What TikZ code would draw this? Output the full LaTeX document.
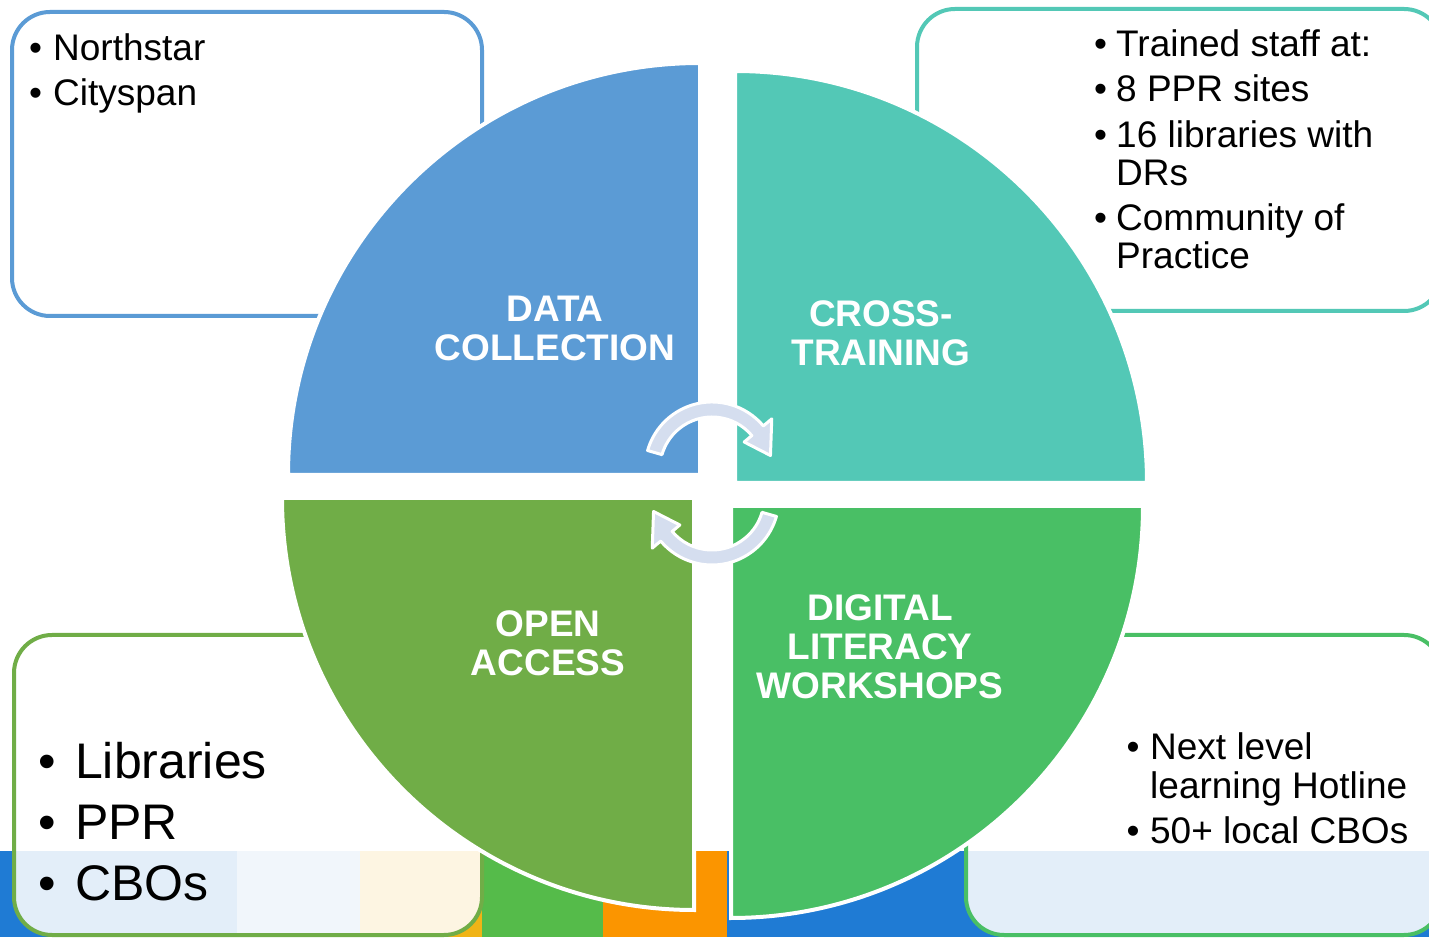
\documentclass[tikz,border=0pt]{standalone}
\usepackage{fontspec}
\setmainfont{Liberation Sans}
\usepackage{tikz}
\definecolor{secblue}{HTML}{5B9BD5}
\definecolor{secteal}{HTML}{53C8B6}
\definecolor{secolive}{HTML}{70AD47}
\definecolor{secgreen}{HTML}{49BF65}
\definecolor{cycfill}{HTML}{D5DEEF}
\definecolor{bandblue}{HTML}{1F7BD4}
\definecolor{bandsky}{HTML}{93BCE6}
\definecolor{bandyellow}{HTML}{F0B416}
\definecolor{bandgreen}{HTML}{55BB4A}
\definecolor{bandorange}{HTML}{FB9500}
\newcommand\bul[1][0.3em]{\llap{\textbullet\hspace{#1}}}
\tikzset{
  quad/.style={fill=#1, draw=white, line width=4pt},
  infobox/.style={draw=#1, fill=white, fill opacity=0.88, line width=4pt, rounded corners=38pt},
  cyc/.style={fill=cycfill, draw=white, line width=3pt, line join=round},
  seclab/.style={text=white, align=center, inner sep=0pt, font=\bfseries\fontsize{37}{39}\selectfont},
  listtxt/.style={anchor=north west, align=left, inner sep=0pt, text=black}
}

\begin{document}
\begin{tikzpicture}[x=1pt, y=1pt]
  \useasboundingbox (0,0) rectangle (1429,937);
  \clip (0,0) rectangle (1429,937);

  % coloured band along the bottom edge
  \fill[bandblue] (0,0) rectangle (237,86);
  \fill[bandsky] (237,0) rectangle (360,86);
  \fill[bandyellow] (360,0) rectangle (482,86);
  \fill[bandgreen] (482,0) rectangle (603,86);
  \fill[bandorange] (603,0) rectangle (727,86);
  \fill[bandblue] (727,0) rectangle (1429,86);

  % info boxes behind the wheel
  \draw[infobox=secblue] (12,621) rectangle (482,925);
  \draw[infobox=secteal] (917,626) rectangle (1442,928);
  \draw[infobox=secolive] (14,2) rectangle (482,302);
  \draw[infobox=secgreen] (966,2) rectangle (1442,302);

  % the four quarters, pulled slightly apart
  \coordinate (qdata) at (700,462);
  \coordinate (qtrain) at (735,454);
  \coordinate (qopen) at (694,439);
  \coordinate (qdigit) at (731,431);
  \path[quad=secblue] (qdata) -- ++(-412,0) arc[start angle=180, end angle=90, radius=412] -- cycle;
  \path[quad=secteal] (qtrain) -- ++(0,412) arc[start angle=90, end angle=0, radius=412] -- cycle;
  \path[quad=secolive] (qopen) -- ++(0,-412) arc[start angle=270, end angle=180, radius=412] -- cycle;
  \path[quad=secgreen] (qdigit) -- ++(412,0) arc[start angle=0, end angle=-90, radius=412] -- cycle;

  % cycle arrows in the middle
  \foreach \cy/\rot in {468/0, 439/180}
    \path[cyc, shift={(712,\cy)}, rotate=\rot]
      (164:67) arc[start angle=164, end angle=40, radius=67] -- (40:78) -- (13:60)
      -- (40:42) -- (40:52) arc[start angle=40, end angle=164, radius=52] -- cycle;

  % quarter titles
  \node[seclab] (data) at (555,609) {DATA\\COLLECTION};
  \node[seclab] (cross) at (881,604) {CROSS-\\TRAINING};
  \node[seclab] (open) at (548,294) {OPEN\\ACCESS};
  \node[seclab] (digital) at (880,290) {DIGITAL\\LITERACY\\WORKSHOPS};

  % bullet lists
  \node[listtxt, font=\fontsize{37}{45}\selectfont] (tools) at (53,904)
    {\bul Northstar\\\bul Cityspan};
  \node[listtxt, font=\fontsize{37}{38}\selectfont] (staff) at (1116,908)
    {\bul[0.25em]Trained staff at:\\[7.5pt]\bul[0.25em]8 PPR sites\\[7.5pt]\bul[0.25em]16 libraries with\\DRs\\[7.5pt]\bul[0.25em]Community of\\Practice};
  \node[listtxt, font=\fontsize{50}{61}\selectfont] (partners) at (75,195)
    {\bul[0.38em]Libraries\\\bul[0.38em]PPR\\\bul[0.38em]CBOs};
  \node[listtxt, font=\fontsize{37}{39}\selectfont] (hotline) at (1150,205)
    {\bul[0.29em]Next level\\learning Hotline\\[6pt]\bul[0.29em]50+ local CBOs};
\end{tikzpicture}
\end{document}
